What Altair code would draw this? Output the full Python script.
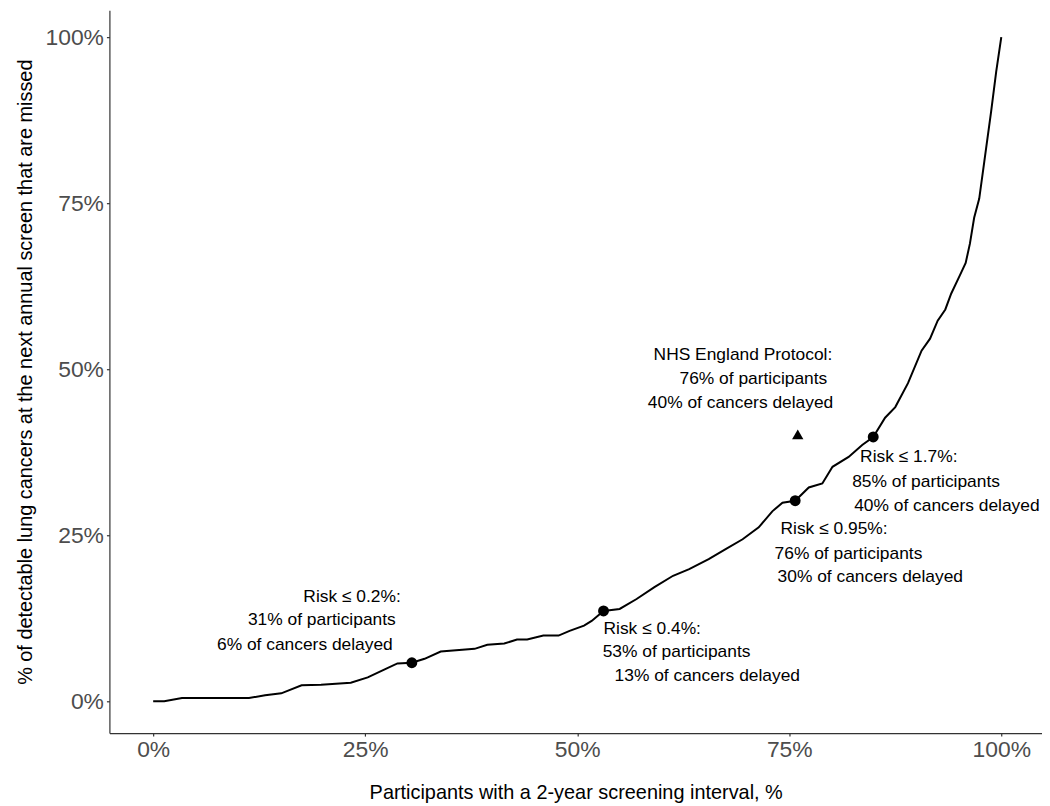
import altair as alt
import pandas as pd

# Curve (percent units)
curve_x = [0, 1.3, 3.4, 11.3, 13.2, 15.1, 17.5, 19.8, 23.3, 25.3, 27.3, 28.8, 30.5, 32.0,
           33.9, 37.9, 39.4, 41.4, 42.9, 44.1, 46.0, 47.8, 49.1, 50.8, 51.7, 53.1, 55.0,
           57.0, 59.1, 61.3, 63.2, 65.5, 67.5, 69.5, 71.4, 73.0, 74.2, 75.7, 77.3, 78.9,
           80.1, 82.0, 83.6, 84.9, 86.3, 87.5, 89.0, 90.6, 91.6, 92.5, 93.4, 94.1, 95.1,
           95.8, 96.3, 96.8, 97.4, 98.0, 98.8, 99.4, 100]
curve_y = [0, 0, 0.5, 0.5, 0.9, 1.2, 2.4, 2.5, 2.8, 3.6, 4.8, 5.7, 5.8, 6.4,
           7.5, 7.9, 8.5, 8.7, 9.3, 9.3, 9.9, 9.9, 10.6, 11.4, 12.1, 13.6, 13.9,
           15.4, 17.2, 18.9, 19.9, 21.4, 22.9, 24.4, 26.2, 28.6, 29.9, 30.2, 32.2, 32.8,
           35.3, 36.8, 38.6, 39.8, 42.7, 44.3, 47.9, 52.8, 54.6, 57.3, 59.0, 61.4, 64.1,
           66.0, 68.9, 72.8, 75.7, 81.3, 88.8, 94.8, 100]

# Risk threshold points
point_x = [30.5, 53.1, 75.7, 84.9]
point_y = [5.8, 13.6, 30.2, 39.8]

# NHS England protocol point
nhs_x = [76.0]
nhs_y = [40.2]

# Annotation lines
label_text = [
    "Risk \u2264 0.2%:", "31% of participants", "6% of cancers delayed",
    "Risk \u2264 0.4%:", "53% of participants", "13% of cancers delayed",
    "NHS England Protocol:", "76% of participants", "40% of cancers delayed",
    "Risk \u2264 1.7%:", "85% of participants", "40% of cancers delayed",
    "Risk \u2264 0.95%:", "76% of participants", "30% of cancers delayed",
]
label_x = [29.19, 28.6, 28.25,
           53.1, 53.0, 54.4,
           80.07, 79.48, 80.19,
           83.35, 82.42, 82.65,
           73.97, 73.27, 73.62]
label_y = [15.72, 12.28, 8.53,
           10.93, 7.49, 3.74,
           52.10, 48.50, 44.91,
           36.83, 33.08, 29.34,
           25.90, 22.16, 18.71]
label_side = ["right"] * 3 + ["left"] * 3 + ["right"] * 3 + ["left"] * 6

curve_df = pd.DataFrame({"x": curve_x, "y": curve_y})
pts_df = pd.DataFrame({"x": point_x, "y": point_y})
nhs_df = pd.DataFrame({"x": nhs_x, "y": nhs_y})
lab_df = pd.DataFrame({"x": label_x, "y": label_y, "text": label_text, "side": label_side})

FONT = "Liberation Sans"

x_scale = alt.Scale(domain=[-5.16, 104.8], nice=False, zero=False)
y_scale = alt.Scale(domain=[-4.79, 104.04], nice=False, zero=False)

x_axis = alt.Axis(values=[0, 25, 50, 75, 100], labelExpr="datum.value + '%'",
                  title="Participants with a 2-year screening interval, %",
                  grid=False, titlePadding=21)
y_axis = alt.Axis(values=[0, 25, 50, 75, 100], labelExpr="datum.value + '%'",
                  title="% of detectable lung cancers at the next annual screen that are missed",
                  grid=False, titlePadding=10)

base_x = alt.X("x:Q", scale=x_scale, axis=x_axis)
base_y = alt.Y("y:Q", scale=y_scale, axis=y_axis)

line = alt.Chart(curve_df).mark_line(color="black", strokeWidth=2).encode(
    x=base_x, y=base_y, order=alt.Order("x:Q"))

pts = alt.Chart(pts_df).mark_point(filled=True, color="black", size=120, opacity=1, shape="circle").encode(
    x="x:Q", y="y:Q")

tri = alt.Chart(nhs_df).mark_point(filled=True, color="black", size=130, opacity=1, shape="triangle-up").encode(
    x="x:Q", y="y:Q")

txt_right = alt.Chart(lab_df).transform_filter(alt.datum.side == "right").mark_text(
    align="right", baseline="middle", fontSize=17.5, font=FONT, color="black").encode(
    x="x:Q", y="y:Q", text="text:N")

txt_left = alt.Chart(lab_df).transform_filter(alt.datum.side == "left").mark_text(
    align="left", baseline="middle", fontSize=17.5, font=FONT, color="black").encode(
    x="x:Q", y="y:Q", text="text:N")

chart = alt.layer(line, pts, tri, txt_right, txt_left).properties(
    width=938, height=727,
    autosize=alt.AutoSizeParams(type="none"),
    padding={"left": 102, "top": 0, "right": 0, "bottom": 71},
).configure_view(stroke=None).configure_axis(
    domainColor="#333333", domainWidth=1.2, tickColor="#333333", tickSize=3, tickWidth=1.2,
    labelPadding=3, labelColor="#4D4D4D", labelFontSize=23, labelFont=FONT,
    titleFont=FONT, titleFontSize=20, titleFontWeight="normal", titleColor="black",
)

chart.save("out.html", embed_options={"renderer": "svg", "actions": False})
